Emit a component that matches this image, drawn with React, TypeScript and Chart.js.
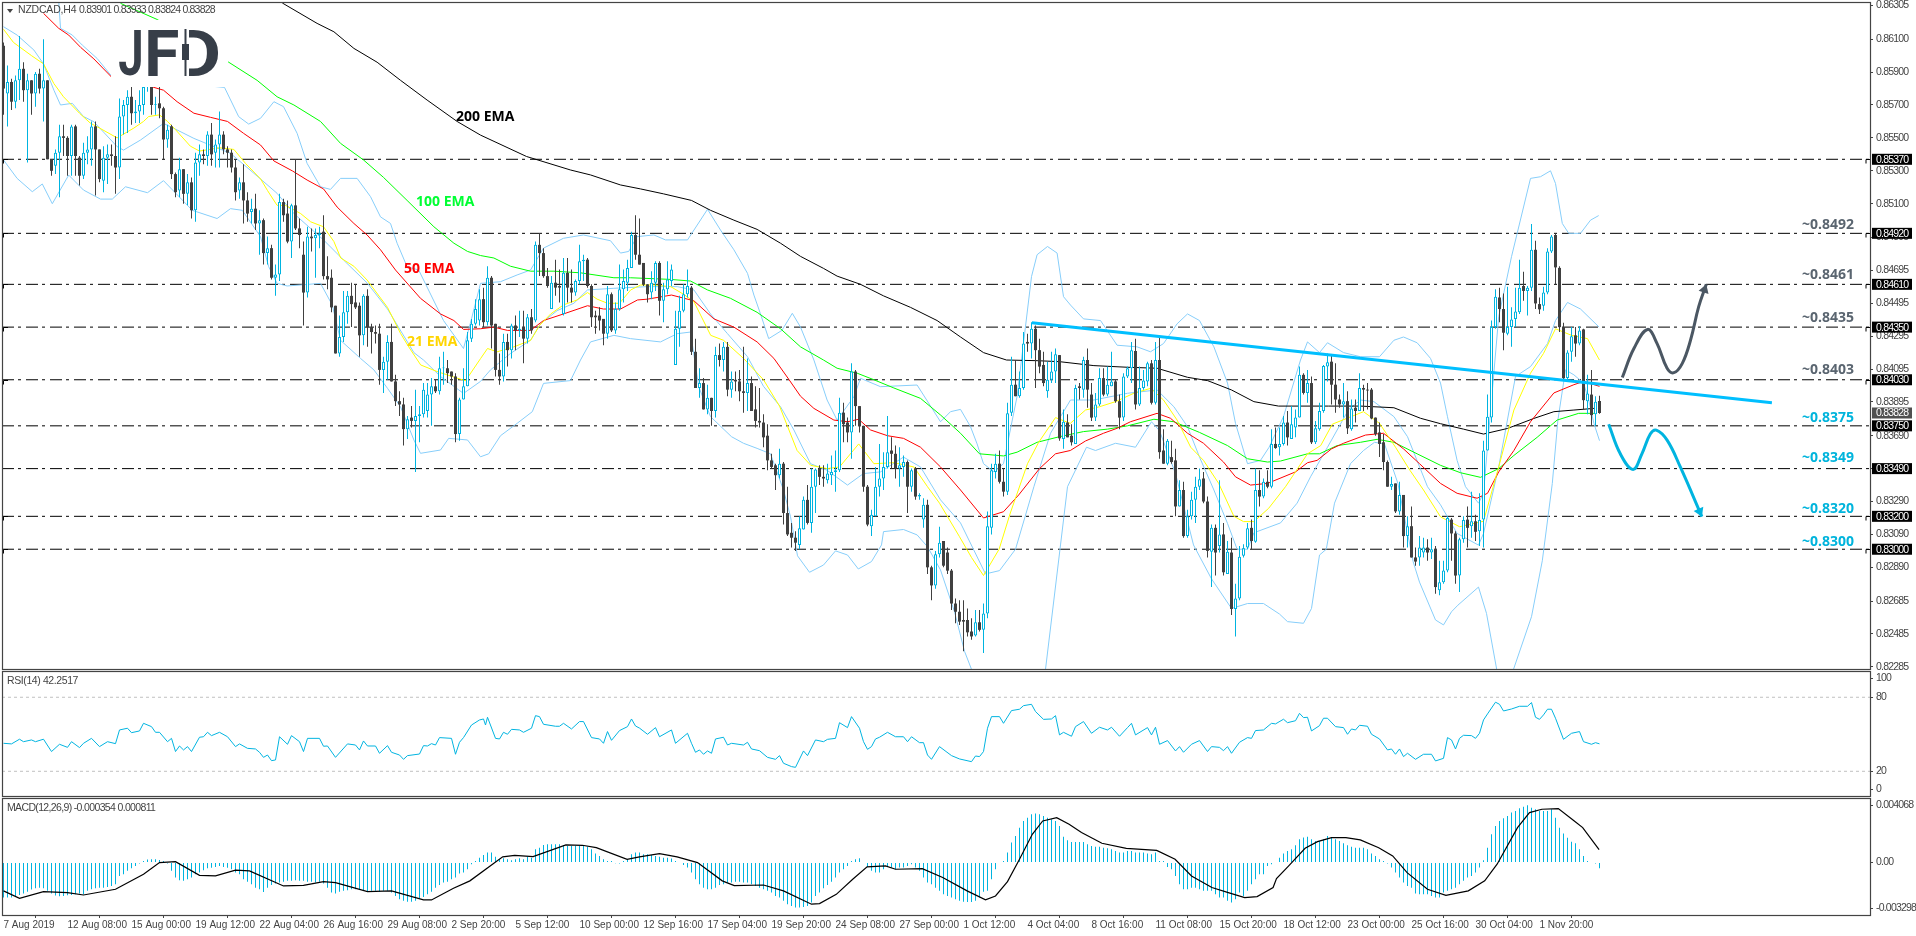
import React, { useEffect, useRef } from "react";
import { Chart, registerables } from "chart.js";
Chart.register(...registerables);

type Pair = [number, number];

const titleSymbol = "NZDCAD,H4";
const titleValues = "0.83901 0.83933 0.83824 0.83828";
const dateLabels = ["7 Aug 2019","12 Aug 08:00","15 Aug 00:00","19 Aug 12:00","22 Aug 04:00","26 Aug 16:00","29 Aug 08:00","2 Sep 20:00","5 Sep 12:00","10 Sep 00:00","12 Sep 16:00","17 Sep 04:00","19 Sep 20:00","24 Sep 08:00","27 Sep 00:00","1 Oct 12:00","4 Oct 04:00","8 Oct 16:00","11 Oct 08:00","15 Oct 20:00","18 Oct 12:00","23 Oct 00:00","25 Oct 16:00","30 Oct 04:00","1 Nov 20:00"];
const priceTicks = [0.86305,0.861,0.859,0.857,0.855,0.853,0.851,0.84895,0.84695,0.84495,0.84295,0.84095,0.83895,0.8369,0.8349,0.8329,0.8309,0.8289,0.82685,0.82485,0.82285];
const levels = [0.8537,0.8492,0.8461,0.8435,0.8403,0.8375,0.8349,0.832,0.83];
const levelsWithMark = [0.8537,0.8492,0.8461,0.8435,0.8403,0.832,0.83];
const lastPrice = 0.83828;

const opens = [
8606,8577,8584,8572,8585,8592,8579,8585,8577,8589,
8580,8585,8537,8533,8541,8551,8550,8539,8557,8538,
8527,8541,8543,8557,8543,8524,8538,8540,8539,8532,
8563,8570,8575,8565,8566,8570,8581,8590,8570,8571,
8568,8549,8557,8528,8518,8531,8516,8523,8506,8535,
8540,8539,8552,8541,8546,8552,8543,8541,8532,8518,
8523,8512,8505,8507,8498,8500,8480,8483,8465,8467,
8511,8504,8487,8509,8495,8479,8456,8490,8489,8491,
8493,8466,8465,8448,8419,8429,8444,8454,8450,8448,
8430,8454,8435,8432,8431,8409,8414,8426,8402,8390,
8388,8373,8380,8378,8381,8382,8384,8394,8399,8396,
8410,8410,8408,8405,8370,8391,8399,8428,8437,8439,
8452,8438,8465,8437,8409,8405,8426,8421,8436,8433,
8435,8428,8441,8439,8485,8480,8466,8446,8462,8460,
8443,8468,8459,8456,8463,8475,8476,8460,8442,8442,
8440,8431,8455,8433,8446,8458,8462,8471,8491,8479,
8474,8461,8456,8462,8474,8451,8458,8463,8412,8434,
8445,8455,8459,8420,8398,8401,8385,8392,8384,8418,
8415,8423,8397,8403,8402,8396,8395,8401,8385,8378,
8377,8369,8354,8351,8345,8352,8322,8310,8307,8302.5,
8312,8330,8316,8338,8349,8344,8342,8345,8347,8348,
8383,8377,8371,8408,8387,8375,8338,8314,8320,8338,
8343,8350,8360,8358,8349,8350,8353,8338,8349,8332,
8318,8327,8289,8278,8297,8305,8298,8287,8267,8262,
8257,8257,8250,8247.5,8255.6,8251,8261,8313,8347,8352,
8341,8335,8383,8400,8393,8398,8426,8425,8434,8421,
8412,8396,8403,8408,8418,8367,8377,8369,8364,8399,
8397,8415,8394,8380,8388,8404,8394,8399,8402,8390,
8380,8405,8410,8420.5,8388,8398,8402,8413,8389,8415,
8360,8352,8356,8354,8326,8336,8308,8320,8330,8338,
8343,8329,8298.5,8313,8302,8309,8285,8298,8263.7,8270,
8296,8301,8313,8304.6,8336,8332,8341,8338,8364,8362,
8364,8377,8367,8374,8380,8406,8395,8401,8365,8373,
8384,8411,8414,8400,8391,8388,8390,8373,8386,8384,
8398,8397,8397,8380,8371,8365,8353,8338,8340,8323,
8333,8308,8314,8295,8295,8298,8301,8298,8300,8275,
8280,8287,8318,8309.6,8284,8306,8318,8314,8317,8311,
8318,8360,8380,8435,8453,8446,8431,8435,8440,8444,
8460,8457,8459,8482,8449,8448,8456,8481,8491,8471,
8435,8404,8420,8430,8425,8433.6,8390,8394,8382,8390.1];

const closes = [
8580,8584,8572,8585,8592,8579,8585,8577,8589,8580,
8585,8537,8530,8541,8551,8550,8539,8557,8539,8527,
8541,8543,8557,8543,8525,8538,8540,8539,8532,8563,
8570,8575,8565,8566,8570,8581,8590,8570,8570.5,8568,
8549,8555,8528,8517,8531,8516,8523,8506,8535,8540,
8539,8552,8540,8546,8552,8543,8541,8532,8517,8523,
8512,8504,8507,8498,8500,8480,8483,8465,8467,8511,
8503,8487,8509,8495,8491,8456,8490,8489,8491,8492,
8466,8464,8447,8419,8429,8444,8454,8449,8447,8430,
8454,8435,8432,8431,8409,8414,8426,8402,8390,8388,
8373,8379,8378,8381,8382,8397,8394,8399,8396,8410,
8410.5,8407,8405,8370,8391,8399,8427,8437,8446,8452,
8438,8465,8436,8409,8405,8426,8421,8436,8433,8434,
8428,8441,8433,8485,8480,8466,8460,8462,8459,8459,
8468,8459,8456,8463,8475,8476,8460,8441,8441,8439,
8431,8455,8433,8446,8458,8463,8471,8491,8479,8473,
8461,8455,8462,8474,8451,8458,8464,8470,8434,8445,
8455,8460,8420,8398,8401,8385,8392,8384,8418,8415,
8423,8397,8402,8402,8396,8395,8401,8384,8378,8377,
8368,8354,8350,8345,8352,8322,8309,8307,8304,8312.7,
8330,8316,8338,8348.5,8344,8343,8346,8347,8348,8383,
8376,8371,8408,8387,8375,8338,8315,8321,8338,8343,
8350,8359,8358,8349,8351,8353,8338,8348,8332,8333,
8327,8289,8278,8297,8304,8290,8287,8267,8262,8256,
8256,8249.5,8247,8255.6,8251,8261,8314,8348,8352,8341,
8335,8382.6,8400,8393,8398,8425,8425,8434,8421,8411,
8401,8403,8408,8418.5,8367.4,8377.5,8368,8365,8398,8398,
8415,8397,8380,8388,8404,8394,8400,8402,8390,8380,
8405,8410,8421,8388,8398,8402.5,8413,8389,8415,8359,
8352,8366,8353,8326,8336,8308,8320,8330,8338,8342.5,
8329,8299,8313,8298,8309,8286,8298.5,8263.7,8270,8295.5,
8300.6,8312.7,8305,8336,8332,8341,8338,8364,8361.5,8364,
8377,8368,8376,8380,8406,8395,8401,8365,8373.5,8384,
8411.4,8413.6,8400,8391,8388,8390,8373.5,8385.6,8384,8398,
8397,8396.5,8379.5,8370,8364,8353,8338,8339.7,8323,8333,
8308,8314,8295,8292.5,8301,8301,8298,8300,8277,8280,
8287,8319,8309.6,8284,8306,8317.7,8313,8317,8310.6,8317.7,
8360,8380.5,8435,8453.5,8446,8431.6,8435,8439.7,8444.5,8459,
8457,8459,8482,8449.4,8445.8,8456,8481,8490,8471.3,8435,
8404,8419.6,8429.5,8425,8433,8390.6,8394.7,8381.5,8389.6,8382.8];

const highs = [
8608,8594,8586,8588,8612,8596,8589,8585,8590,8592,
8610,8585,8537,8543,8558,8558,8551,8558,8558,8539,
8547,8551,8560,8560,8543,8545,8546,8546,8551,8574,
8573,8579,8581,8573,8579,8582,8595,8592,8575,8581,
8569,8558,8558,8529,8538,8531,8528,8526,8541,8546,
8543,8554,8559,8549,8566,8554,8545,8543,8537,8526,
8534,8517,8513,8516,8506,8501,8490,8485,8473,8516,
8513,8512,8510,8537,8501,8487,8496,8495,8495,8496,
8503,8478,8470,8448,8442,8457,8457,8462,8461,8450,
8455,8458,8437,8436,8437,8417,8430,8437,8406,8396,
8392,8381,8387,8397,8387,8401,8401,8404,8403,8417,
8420,8415,8408,8407,8392,8410,8432,8440,8452,8458,
8459,8472,8466,8437,8419,8431,8431,8437,8442,8445,
8445,8443,8446,8487,8492,8483,8471,8466,8476,8470,
8477,8477,8470,8464,8485,8479,8477,8461,8445,8447,
8440,8460,8456,8450,8473,8470,8476,8493,8503,8501,
8474,8461,8469,8475,8475,8462,8475,8473,8445,8454,
8461,8470,8460,8428,8410,8404,8400,8392,8423,8425,
8426,8426,8408,8408,8409,8423,8416,8405,8399,8398,
8382,8376,8358,8352,8361,8353,8338,8316,8311,8320,
8332,8339,8349,8349,8351,8351,8352,8357,8360,8392,
8389,8380,8413,8409,8387,8375,8339,8324,8350,8364,
8359,8381,8368,8363,8362,8357,8354,8349,8350,8334,
8331,8330,8290,8299,8313.7,8305,8301,8288,8270,8269,
8269,8264,8258,8263,8263,8267,8323,8352,8358,8360,
8349,8389,8417,8415,8408,8432,8431,8438,8436,8428,
8420,8414,8420,8422,8418,8385,8382,8376,8400,8401,
8417,8422,8401,8395,8410,8410,8411,8420,8403,8394,
8407,8411,8426,8428,8411,8409,8414,8415,8426,8429,
8373,8367,8366,8361,8342,8341,8324,8335,8344,8349,
8347,8332,8315,8315,8342,8316,8305,8307,8279,8302,
8303,8316,8318,8349,8348,8343,8348,8373,8374,8374,
8381,8384,8387,8385,8411,8407,8409,8405,8378,8389,
8412,8419,8418,8413,8394,8401,8396,8391,8391,8407,
8400,8401,8398,8380,8377,8370,8354,8344,8340,8341,
8333,8320,8326,8301,8308,8307,8306,8307,8302,8293,
8293,8320,8319,8311,8307,8320,8326,8335,8321,8334,
8366,8394,8439,8458,8459,8455.5,8459.5,8447,8459,8476,
8468.6,8460,8497.6,8487.5,8453,8459.5,8483,8491,8492,8472,
8437.6,8421,8435,8435,8435.6,8434,8406,8409,8393,8393.3];

const lows = [
8564,8557,8567,8568,8573,8572,8535,8564,8569,8577,
8560,8537,8527,8528,8514,8539,8527,8527,8527,8521,
8525,8534,8533,8515,8523,8517,8522,8533,8516,8525,
8552,8553,8558,8559,8559,8564,8578,8564,8564,8562,
8537,8544,8525,8514,8514,8510,8509,8501,8499,8527,
8534,8533,8533,8532,8532,8540,8532,8529,8512,8513,
8498,8499,8498,8494,8479,8473,8473,8464,8454,8463,
8499,8486,8477,8494,8483,8436,8453,8481,8465,8483,
8464,8458,8444,8419,8417,8426,8437,8435,8446,8417,
8424,8423,8419,8425,8400,8395,8403,8402,8387,8381,
8363,8367,8374,8347,8365,8380,8380,8375,8395,8394,
8400,8401,8400,8365,8366,8391,8399,8426,8436,8436,
8435,8436,8422,8405,8400,8402,8411,8416,8421,8429,
8413,8425,8431,8438,8466,8465,8459,8446,8454,8450,
8442,8450,8450,8454,8461,8463,8459,8435,8431,8433,
8424,8428,8432,8431,8445,8450,8457,8471,8476,8473,
8460,8450,8452,8457,8442,8438,8455,8460,8412,8423,
8444,8453,8418,8398,8392,8385,8382,8375,8380,8411,
8408,8393,8392,8396,8390,8383,8384,8384,8374,8374,
8362,8348,8349,8336,8343,8315,8308,8301,8299,8300,
8312,8315,8310,8322,8339,8338,8340,8339,8335,8347,
8365,8365,8355,8375,8371,8335,8314,8308,8320,8332,
8336,8349,8349,8343,8338,8344,8322,8335,8330,8330,
8313,8285,8269,8276,8295,8289,8285,8263,8255,8254,
8238,8247,8245,8247,8250,8237,8258,8309,8343,8340,
8332,8333,8381,8393,8392,8397,8420,8416,8398,8407,
8399,8392,8401,8401,8366,8361,8368,8363,8364,8391,
8392,8386,8378,8378,8387,8393,8393,8399,8389,8373,
8378,8404,8401,8385,8387,8397,8399,8388,8388,8355,
8352,8351,8352,8320,8326,8307,8307,8318,8316,8336,
8328,8295,8277,8284,8298,8284,8285,8260,8247,8269,
8295,8300,8300,8304,8326,8331,8337,8337,8361,8357,
8363,8363,8367,8368,8380,8394,8389,8364,8364,8372,
8383,8402,8388,8383,8386,8380,8370,8372,8377,8384,
8384,8385,8379,8369,8356,8348,8338,8336,8322,8321,
8301,8301,8295,8290,8290,8295,8293,8294,8273,8272,
8279,8286,8293,8279,8274,8304,8301,8307,8305,8302,
8301,8360,8377,8434,8438,8421,8430,8423,8435,8443,
8451,8442,8457,8446,8443,8445,8455,8480,8461,8432,
8403,8403,8414,8417,8424,8384.6,8382,8375,8375,8382.4];

const ema21: Pair[] = [[0,8616],[2.5,8608],[7,8600],[10,8595],[12.6,8583],[15,8575],[17,8570],[19,8565],[21.7,8559],[24,8556],[28.4,8550],[32.6,8556],[35,8560],[36.3,8563],[39,8564],[41,8560],[43,8555],[46.7,8545],[49,8542],[54,8544],[57.6,8543],[60.5,8534.5],[64.3,8525],[66,8518],[68.4,8509],[70.5,8509],[74.3,8504],[76.8,8499],[80,8496],[82.6,8487],[84.3,8477],[87.6,8472],[90.9,8463.6],[96,8447],[99.3,8431],[101.3,8423],[104.3,8412],[108.4,8408],[113.4,8404],[115.5,8402.4],[119.3,8416],[121,8422],[123.4,8420],[127.6,8423],[131.8,8427],[134,8436],[136.8,8443],[140,8448.5],[143.4,8451.5],[146,8456],[148.4,8452],[151,8449.5],[154,8449.5],[156.8,8457.6],[159.3,8460.6],[162.6,8460.6],[166.8,8459.6],[170,8455],[172.6,8450.5],[176.8,8430],[180,8427],[185,8416],[190,8403],[194,8387],[198.4,8360],[201.8,8351],[205.9,8349],[209,8350],[213.8,8364],[217.6,8352],[222.6,8352.6],[227.6,8350],[231,8338],[234,8328],[239,8307.6],[242,8295],[245,8284],[248.9,8300],[251.7,8322],[256,8352],[258.8,8365],[263,8380],[266.7,8376.5],[270.5,8384.6],[274,8386.6],[278,8389.7],[282.6,8394.8],[286.8,8397.8],[290,8390.7],[293.4,8378.5],[296.8,8362],[300,8354],[303.8,8340],[307.6,8320],[310,8316.8],[312.6,8316.8],[316.3,8324.9],[320.5,8338],[326,8358],[329.3,8363],[332.2,8376],[340,8383.6],[344,8376.5],[348,8362],[351.6,8348],[355,8336],[359.25,8319.7],[364,8313.7],[370,8317],[373.8,8350],[377.6,8384.6],[381.75,8407],[385,8419],[388,8434],[392,8430],[396,8428],[399,8415]];

const ema50: Pair[] = [[10,8625.7],[13.8,8616.6],[16.3,8612.5],[19.3,8605],[22.6,8598],[27,8587],[37.6,8580.7],[40,8579],[43.4,8572],[47.6,8565],[51.75,8562.5],[56,8560],[60,8552.8],[64.25,8545.7],[67.6,8536],[72.25,8529.9],[75.9,8524.4],[80,8519],[83.4,8508],[87.6,8498],[90.9,8491],[94.25,8482],[98,8469.7],[104.25,8452.5],[109.25,8443],[112.6,8439],[115,8433.6],[119.25,8434],[122.6,8435],[126,8433],[131.75,8433],[135,8439],[140,8443],[146,8448],[150,8446],[154.25,8446],[158.5,8451.5],[161,8452],[167,8454.5],[172.6,8451],[177.6,8440],[182.6,8435],[188.4,8426],[192.6,8416],[196.4,8403],[199.25,8393],[202.6,8385.6],[207.6,8378.5],[211,8377.5],[213.8,8379],[216.75,8372.5],[221,8369],[225,8367.4],[229.25,8362],[234.25,8350],[239.25,8336],[245,8319],[250,8322.8],[253.8,8333],[259,8349],[263,8358],[266.7,8360],[270.5,8365.8],[275,8370.5],[278.4,8373.5],[281.75,8377.5],[288.4,8382.6],[291.75,8379.6],[296,8370.5],[300,8364.4],[305,8353],[308,8344],[311.75,8339],[316,8340],[323,8347],[326,8352.6],[328.4,8354],[332,8361],[335,8364.4],[340.5,8369.4],[345,8370.5],[350,8361],[354,8352],[359.25,8340],[363.4,8334],[368.4,8331],[371,8334],[373.8,8347],[377.6,8360],[381.75,8377.5],[387.6,8395],[392.6,8400],[395,8402],[399,8399]];

const ema100: Pair[] = [[29.25,8631.8],[38.4,8622],[56.3,8596],[63.4,8585],[68.4,8575],[72.6,8570],[79.25,8560],[84.25,8546.7],[90,8536.6],[95,8526],[100.9,8512],[107.6,8496],[112.6,8486],[116,8481],[119.25,8478.5],[122.6,8477],[126.75,8472],[131.75,8469],[137.6,8469],[144.25,8468],[152.6,8465],[156.75,8465],[166.75,8464],[171.75,8463],[176,8457.6],[181.75,8452.5],[188.4,8444],[194.25,8434],[199.25,8423],[205,8415],[208.4,8410],[213.4,8407],[217.6,8403],[222.6,8398],[229.25,8391.7],[234.25,8381.6],[239.25,8370.5],[244,8358],[250,8356.7],[253.4,8359],[258.4,8365],[264,8368.4],[270,8371.5],[276,8373],[281,8375],[287.6,8379],[292.6,8377.5],[299,8371],[306,8363],[311,8355],[316,8353],[319.25,8353.6],[326,8358],[329,8358],[333.4,8363],[339.25,8365],[343.4,8366.8],[347.6,8365],[353.4,8358],[359.25,8351],[364.25,8346.5],[369.25,8343.7],[373.8,8349],[377.6,8357],[383.4,8368],[388.4,8378.5],[393.8,8382.6],[397.6,8382.6]];

const ema200: Pair[] = [[69.7,8632],[78.4,8619.6],[82.6,8614.5],[87.6,8604.4],[93.4,8596],[99.25,8585],[105.9,8573],[113.4,8560],[119.25,8551.7],[130.75,8538.7],[141.75,8530.5],[146.75,8527.5],[154.25,8521.4],[159.25,8519],[165,8516],[172,8512],[176.75,8506],[182.6,8500],[188.4,8494.4],[194.25,8486],[199.25,8478],[205,8470.7],[208.4,8466],[214.25,8461],[220,8454],[226.75,8447],[233.4,8439],[239.25,8429],[245,8419.5],[250.75,8415],[258.4,8414.6],[264,8414],[272.6,8411.6],[281,8410.6],[288.4,8410],[296,8404.5],[301,8402.5],[307,8396.8],[312.6,8389.7],[318.75,8387],[331.25,8387],[339.25,8387],[347.6,8386],[354.25,8379.6],[359.25,8376.3],[365,8373],[370,8370],[376,8373.4],[382.6,8379.5],[387.6,8383.6],[392.6,8384.6],[397.6,8385.6]];

const bbUpper: Pair[] = [[13.8,8633.8],[14.25,8616.6],[17.2,8612.5],[19.7,8606.4],[23.4,8598.3],[27.2,8587],[55.25,8580.7],[58.8,8562.9],[61.3,8558.4],[64.25,8561.9],[67.6,8572],[70,8569],[73.4,8552.8],[75.9,8534.5],[79.25,8520.3],[81.75,8518.7],[84.25,8525.4],[88.4,8525.4],[91.75,8514.3],[94.25,8502],[96.75,8498],[98.4,8486],[100.9,8471.7],[103.8,8469.7],[110,8439],[115,8422],[117,8440],[119.25,8461.6],[124.25,8462.6],[128.4,8466.7],[131.75,8469.7],[135,8483],[140,8489],[145,8491],[151.75,8487.5],[154.25,8480],[156.3,8481],[158.4,8490],[162.6,8491],[165.5,8488],[171,8488],[176,8506.6],[179.25,8494],[182.6,8482],[186,8467.7],[187.6,8454.5],[189.25,8443],[191.3,8428],[194.6,8433],[197.2,8443.4],[199.25,8435],[202.6,8415],[205.9,8390.7],[208.4,8378.5],[212.6,8392.7],[214.25,8403.9],[219.25,8398.8],[228.4,8399.8],[234.25,8377.5],[236.75,8383.6],[239.25,8385],[241.75,8374.5],[243.4,8364],[245,8352],[247.6,8347],[250,8352],[253.4,8393],[257,8465.7],[258.4,8479],[261,8484],[263.4,8480],[265,8453.5],[266.75,8448.4],[270,8440],[274.25,8439],[278.4,8424],[283.4,8423],[286.75,8420],[290,8425],[293.4,8437],[296,8443],[299,8439],[302.6,8423],[306,8401],[308,8376.5],[311,8352],[314.25,8354],[316.4,8362],[320,8380.6],[324.25,8415],[326,8426],[329,8419.5],[331,8425.5],[335,8419.5],[339.25,8417],[344,8417],[347.6,8427],[350,8429],[353.4,8425.5],[356.75,8416],[359.25,8401],[361,8380.5],[363.4,8354],[365.5,8338],[368.75,8328],[370,8334],[373.8,8441.3],[377,8477.8],[381.75,8525.4],[384.25,8526.4],[386.75,8530],[388,8522.3],[389.7,8498],[391.3,8492],[394.25,8492],[396.75,8500],[398.8,8502.8]];

const bbMiddle: Pair[] = [[0,8617.6],[3.4,8612.5],[7.6,8603.4],[10,8595],[12.6,8579],[14.25,8570],[17.2,8571],[20,8563],[22.6,8559.8],[28.4,8544.7],[30,8542.6],[34.25,8548.7],[40,8558.8],[42.6,8555.8],[47.6,8549.7],[56.75,8540.6],[62.6,8528.5],[68.4,8516.3],[72.6,8504],[80,8488],[85,8475.8],[91,8461.6],[96,8446],[102.6,8419.5],[105,8415],[109.25,8405],[115,8394.7],[119.25,8402],[121.75,8409],[126.75,8419],[131.75,8427],[134.25,8437],[138.4,8445],[142.6,8449.5],[146,8457.6],[152.6,8458.6],[161,8459.6],[168.4,8459.6],[172.6,8457.6],[176.75,8443],[181,8431],[186,8417],[190,8399],[194.25,8386.6],[197.6,8372.5],[201.75,8352],[205.9,8348],[211,8339],[215,8346],[219.25,8347],[225,8356],[229.25,8350],[234.25,8330],[239.25,8316],[245.5,8285],[249,8287],[253,8300],[257.6,8338],[261.75,8370.5],[266.75,8390.7],[272.6,8390.7],[281,8394.8],[288.4,8396.8],[292.6,8386.6],[296,8374.5],[299,8356],[302.6,8336],[306,8315.7],[308.4,8300],[311,8300],[312.6,8310],[319.25,8316],[323.4,8328],[326.75,8344],[331,8362],[336.3,8385],[339.25,8390.7],[342.6,8389.7],[347.6,8380.6],[351,8368.4],[356,8338],[359.25,8327],[363.4,8309.6],[368.75,8302.5],[370,8309.6],[373.8,8350],[378,8405],[381.75,8411],[386,8425],[388,8439],[391,8450],[394.25,8446],[398.9,8435]];

const bbLower: Pair[] = [[0,8536.6],[3.4,8525.4],[7.2,8517.3],[9.7,8522],[12.2,8510],[16.3,8527.4],[20,8518.3],[24.25,8512.8],[27.2,8512.8],[30.5,8520.3],[36,8516.7],[40,8524],[47.2,8506],[53.4,8501],[56.75,8507],[59.7,8506],[64.25,8490],[66.3,8471.7],[68.4,8461.6],[70.9,8460],[74.25,8460.6],[79.25,8461.6],[82.2,8448.4],[84.25,8427],[89.25,8416],[92.6,8409],[96,8397.8],[99.25,8386.6],[102.6,8366.4],[104.25,8358.3],[109.25,8360.3],[111.3,8367.4],[116,8366.4],[119.25,8356.2],[121.3,8358],[124.25,8369],[128.4,8376.5],[132.2,8383.6],[135,8400.8],[141.75,8402.5],[144.25,8415],[146.75,8426],[152.6,8430],[156.75,8428],[164.25,8426],[168.4,8431],[171.75,8432],[173.8,8398.8],[176.75,8380.6],[182,8368.4],[185,8364.4],[188.4,8361.3],[191.75,8358],[195,8336],[196.75,8319.8],[198.5,8296],[201.5,8286],[205,8290.4],[208,8299],[211,8296.5],[213.7,8288],[217,8292.5],[219.5,8302.6],[220,8310.7],[225,8312],[228.4,8308.7],[231,8301.5],[234.25,8287.4],[237.75,8262],[240.25,8238],[242,8227],[251,8175],[260.5,8227],[264.25,8302.6],[266,8338],[270.75,8362],[273,8360],[278,8364.4],[283,8362],[287,8377.5],[289,8372],[293,8346],[297.5,8302.6],[302,8282],[307,8264],[311,8267],[315,8267],[319,8260.6],[321,8256],[325,8255],[327,8264],[329,8296.5],[330.7,8300],[332.75,8328],[336.75,8352],[340,8360],[342.75,8365],[345.25,8364],[348.6,8340],[352.4,8292.5],[354,8280],[358,8257],[360,8254],[362,8262],[363.6,8266],[368.75,8277],[370.75,8261],[373.3,8227],[375.5,8205],[377.5,8227],[382,8259],[384.7,8293],[387.2,8340],[388.6,8378.5],[390.5,8409],[392.6,8406],[395,8401],[396.3,8390.6],[397.6,8376.5],[399,8366]];

const trendLine: Pair[] = [[257.1,8437.7],[442.1,8389.1]];
const upPath: Pair[] = [[404.7,8404.4],[407.6,8422],[411,8433.6],[413.4,8425],[415.9,8410],[417.6,8407.3],[419.7,8413],[421.75,8427],[423.8,8447.4],[425.7,8461]];
const downPath: Pair[] = [[401.3,8376],[404.2,8358],[407.4,8348.5],[409.6,8358],[411.7,8370],[413.2,8372.4],[415.9,8366.3],[419.2,8350],[424.6,8319.8]];

const rsi: Pair[] = [[0,42.7],[2,42.2],[4,46],[5,44],[7,45.4],[8,44],[10,46],[12,36],[14,41.9],[16,39.4],[17,44],[19,39.2],[20,42.7],[22,46.7],[24,40],[26,44],[28,42.4],[29,53.5],[31,54.9],[32,51.3],[34,52.7],[35,58.9],[37,56.2],[38,51.6],[39,51.6],[41,44],[42,46.7],[43,36],[44,40.5],[45,37.3],[46,40],[47,36],[49,47.6],[50,48],[51,51.6],[52,48.9],[54,51.6],[56,48],[58,40],[59,42.2],[61,38.6],[63,38.1],[64,35.4],[65,31.3],[66,33.2],[67,28.6],[68,29.2],[69,48],[71,41.9],[72,48.9],[74,44],[75,36],[76,46.7],[79,46.7],[80,40.3],[81,40.5],[83,31.3],[86,42.2],[88,41.3],[89,37.3],[90,44.6],[91,40.5],[93,40.5],[94,34.6],[96,40.8],[97,35.4],[99,33.2],[100,29.7],[101,32.7],[104,34],[105,40.8],[106,40.5],[107,42.4],[108,41.3],[109,47.3],[112,46.7],[113,33.8],[114,43.5],[115,47.3],[117,57.5],[119,61.6],[120,62.4],[120.5,57.5],[121,63.8],[123,46.7],[124,46.2],[125,51.6],[126,50],[127,54],[129,53.5],[130,51.6],[132,54.9],[133,65.1],[134,64.3],[135,58.1],[138,56.5],[139,56.5],[140,58.9],[142,54.3],[144,60.3],[145,60.3],[147,47.3],[149,46.2],[150,42.7],[151,52.2],[152,45.1],[154,53],[156,56.2],[157,62.4],[158,56.7],[159,55],[161,50],[163,55.4],[164,48],[167,53.5],[168,42.7],[171,50.8],[172,42.7],[173,35.4],[174,37.3],[175,33.8],[176,36.5],[177,34.6],[178,46.2],[180,47.6],[181,41.3],[182,42.7],[185,41.3],[186,43.5],[187,38.1],[189,36.7],[191,31.3],[193,29.7],[194,32.7],[195,26.5],[197,23.8],[198,23.2],[200,36.5],[201,32.7],[203,45.4],[205,44],[206,45.9],[208,46.7],[209,59.4],[211,55.4],[212,64.3],[214,54.9],[215,44],[216,37.8],[217,40],[218,46.2],[219,47.6],[221,51.6],[223,48],[225,48],[226,44],[227,48],[229,43.2],[230,43.2],[231,33.2],[232,29.7],[234,40],[237,32.7],[239,30],[242,27.8],[243,32.4],[244,31.9],[245,36],[246,54.9],[247,64.3],[249,64.3],[250,58.9],[252,69.2],[254,70.3],[255,73.2],[257,74.3],[258,68.4],[260,62.1],[262,62.4],[263,65.1],[264,49.5],[265,51.6],[267,48.4],[268,56.2],[270,60.3],[272,50.8],[274,55.7],[276,53.5],[277,55.7],[279,48.4],[281,55.4],[282,58.9],[283,49.5],[286,55.4],[287,49.5],[288,55.7],[289,41.9],[291,44.9],[293,36.5],[294,40],[295,35.4],[297,41.9],[299,44.9],[301,36],[302,40],[304,39.4],[305,36.7],[306,40],[307,34.6],[309,43.5],[311,47.3],[312,46.7],[313,53],[315,53.5],[317,58.9],[318,58.4],[320,62.2],[321,59.4],[323,61],[324,67],[325,63.5],[326,63.8],[327,52.7],[329,57],[330,63],[331,63],[333,56.2],[335,55.4],[336,50],[337,54.3],[338,53.5],[339,57.3],[341,56.5],[342,50],[344,46.2],[346,37.3],[347,38.1],[348,33.8],[349,38.1],[350,31.9],[351,34.6],[353,29.7],[355,33.8],[357,33.8],[358,28.4],[360,30.5],[361,47.3],[362,45.4],[363,38.1],[364,46.7],[365,49.2],[367,48.9],[368,46.7],[369,50.8],[370,61.6],[371,66.5],[373,76],[374,74.3],[375,68.9],[377,70.5],[379,72.7],[381,72.7],[382,75.7],[383,63.8],[384,62.1],[385,65.7],[386,70.3],[387,70.3],[388,63],[390,45.9],[392,50.8],[394,52.2],[395,44],[397,41.9],[398,43.2],[399,42.25]];
const rsiGuides = [80, 20];
const rsiTicks = [95.6, 80, 20, 5.6];
const rsiTickText = ["100", "80", "20", "0"];

const macdHist = [
-220,-220,-220,-216,-204,-195,-183,-170,-162,-158,
-162,-178,-195,-208,-212,-210,-206,-204,-200,-195,
-200,-178,-168,-162,-158,-158,-153,-147,-136,-84,
-74,-52,-36,-21,-6,10,19,21,21,17,
10,-6,-52,-94,-111,-115,-105,-94,-74,-63,
-48,-36,-32,-27,-21,-27,-32,-42,-63,-74,
-105,-120,-136,-158,-168,-185,-158,-141,-132,-126,
-120,-115,-115,-111,-115,-115,-120,-120,-126,-120,
-132,-158,-189,-195,-183,-178,-174,-168,-168,-168,
-178,-183,-178,-178,-183,-178,-178,-189,-210,-231,
-241,-246,-246,-241,-225,-216,-200,-183,-158,-141,
-126,-120,-105,-94,-69,-63,-42,-10,10,31,
48,63,63,36,21,27,21,15,21,27,
21,36,31,84,94,111,115,115,115,115,
111,105,105,105,105,105,99,84,57,42,
21,10,10,-4,-6,10,21,52,63,63,
52,52,48,42,36,31,31,25,10,0,
-15,-31,-63,-105,-136,-158,-168,-168,-158,-141,
-136,-126,-126,-120,-120,-126,-126,-136,-147,-158,
-168,-178,-189,-210,-220,-241,-262,-273,-283,-283,
-279,-273,-252,-210,-189,-162,-141,-120,-94,-63,
-42,-21,10,21,27,0,-27,-52,-63,-63,
-42,-21,-31,-42,-31,-31,-21,-10,-31,-52,
-94,-126,-136,-158,-178,-200,-210,-220,-231,-241,
-246,-248,-248,-241,-220,-183,-178,-105,-42,0,
10,63,126,168,220,262,283,304,309,304,
294,283,273,262,231,162,141,130,130,130,
130,115,105,99,99,94,90,84,73,63,
63,73,73,63,63,63,57,52,63,10,
10,-27,-42,-84,-136,-168,-168,-158,-158,-168,
-178,-178,-178,-200,-220,-220,-241,-252,-231,-189,
-210,-178,-136,-105,-74,-74,-21,-10,0,31,
57,73,84,109,147,158,162,147,136,136,
147,168,158,147,136,122,109,99,94,94,
94,84,57,42,21,10,-6,-31,-63,-94,
-126,-147,-158,-195,-200,-200,-200,-210,-220,-220,
-189,-178,-168,-158,-136,-115,-94,-84,-63,-31,
15,94,178,231,262,279,294,315,325,342,
351,361,346,336,325,325,325,336,283,220,
183,157,132,122,84,42,10,0,-6,-35.4];

const macdSignal: Pair[] = [[0,-178],[4,-225],[10,-183],[16,-189],[20,-204],[28,-168],[35,-74],[39,0],[43,6],[49,-80],[53,-84],[58,-48],[61.5,-52],[70,-147],[75,-143],[80,-120],[83,-126],[91,-183],[97,-178],[105,-235],[107,-235],[112.5,-162],[116.6,-115],[124.8,36],[127.8,46],[132.4,38],[140.6,111],[144.7,109],[148.2,94],[155.9,21],[159,36],[164,57],[168.4,36],[173.5,0],[179.7,-115],[182.7,-145],[190,-141],[195,-178],[202,-262],[204,-258],[208.2,-200],[212.3,-105],[215.9,-27],[220.5,-21],[223,-42],[229.7,-38],[234.8,-94],[240.9,-178],[245.5,-235],[248,-210],[251,-120],[254,21],[257.2,178],[259.8,262],[263.3,283],[266.4,241],[269.5,189],[274.6,122],[280.7,90],[288.3,77],[292.9,21],[297,-84],[302.1,-157],[306.2,-189],[310.3,-220],[313.4,-214],[317.4,-157],[318.25,-101],[321.3,-21],[325.4,90],[328.5,132],[332,157],[335.6,157],[339.2,143],[343.8,94],[347.3,42],[350.9,-63],[356,-168],[360.6,-206],[366.2,-178],[370.3,-115],[373.4,-10],[378.5,220],[381.5,315],[384.6,336],[388.7,340],[392.7,262],[394.8,220],[398.9,81]];
const macdTicks = [0.003626, 0, -0.00286];
const macdTickText = ["0.004068", "0.00", "-0.003298"];

const levelTexts: [string, number, string, number][] = [
  ["~0.8492", 0.8492, "#5a6570", -8],
  ["~0.8461", 0.8461, "#5a6570", -9],
  ["~0.8435", 0.8435, "#5a6570", -9],
  ["~0.8403", 0.8403, "#5a6570", -10],
  ["~0.8375", 0.8375, "#00b4dc", -8],
  ["~0.8349", 0.8349, "#00b4dc", -11],
  ["~0.8320", 0.832, "#00b4dc", -7],
  ["~0.8300", 0.83, "#00b4dc", -7],
];
const emaTexts: [string, string, number, number][] = [
  ["200 EMA", "#000000", 456, 117],
  ["100 EMA", "#00ff33", 416, 202],
  ["50 EMA", "#ff0000", 404, 269],
  ["21 EMA", "#ffd500", 407, 342],
];

const CYAN = "#00b4e0";
const DARK = "#404040";
const BAND = "#87cefa";
const AXIS = "#444444";
const SANS = "'Liberation Sans'";
const priceFont = { family: SANS, size: 10.5 };
const dateFont = { family: SANS, size: 10 };
const PRICE_SPACING = "-0.8px";

const px = (p: Pair[]) => p.map(([x, y]) => ({ x, y: y / 10000 }));
const raw = (p: Pair[]) => p.map(([x, y]) => ({ x, y }));
const idx = opens.map((_, i) => i);
const isUp = (i: number) => closes[i] >= opens[i];

const line = (data: any[], color: string, yAxisID: string, order: number, width = 1, extra: any = {}) => ({
  type: "line", data, borderColor: color, borderWidth: width, pointRadius: 0, yAxisID, order, clip: 0, tension: 0, fill: false, ...extra,
});

const fitGlyph = (ctx: any, t: string, x0: number, x1: number, y0: number, y1: number) => {
  const m = ctx.measureText(t);
  const w = m.actualBoundingBoxLeft + m.actualBoundingBoxRight;
  const h = m.actualBoundingBoxAscent + m.actualBoundingBoxDescent;
  ctx.save();
  ctx.translate(x0, y0);
  ctx.scale((x1 - x0) / w, (y1 - y0) / h);
  ctx.fillText(t, m.actualBoundingBoxLeft, m.actualBoundingBoxAscent);
  ctx.restore();
};

const overlay = {
  id: "overlay",
  beforeDraw(chart: any) {
    // axis price labels are tighter than the date labels
    ["y", "yr", "ym"].forEach((id) => {
      const s = chart.scales[id];
      if (s.__tight) return;
      s.__tight = true;
      const draw = s.drawLabels;
      s.drawLabels = function (area: any) {
        chart.ctx.save();
        chart.ctx.letterSpacing = PRICE_SPACING;
        draw.call(s, area);
        chart.ctx.restore();
      };
    });
  },
  afterDatasetsDraw(chart: any) {
    const { ctx, scales } = chart;
    const y = scales.y;
    const x = scales.x;
    ctx.save();

    // logo plate
    ctx.fillStyle = "#ffffff";
    ctx.fillRect(111, 20, 117, 67);
    ctx.textBaseline = "alphabetic";
    ctx.textAlign = "left";
    ctx.font = "700 66px Roboto";
    ctx.fillStyle = "#373e48";
    fitGlyph(ctx, "J", 119, 141, 29, 76);
    fitGlyph(ctx, "F", 148, 178, 29, 76);
    ctx.save();
    ctx.beginPath();
    ctx.rect(189, 25, 35, 56);
    ctx.clip();
    fitGlyph(ctx, "D", 177, 219, 29, 76);
    ctx.restore();
    ctx.fillRect(184.5, 29, 2, 47);
    ctx.fillRect(182, 44, 7, 16);

    // emphasised level marks
    ctx.strokeStyle = "#000000";
    ctx.lineWidth = 1;
    levelsWithMark.forEach((v) => {
      const py = Math.round(y.getPixelForValue(v)) + 0.5;
      ctx.beginPath();
      ctx.moveTo(3.5, py + 4);
      ctx.lineTo(3.5, py);
      ctx.lineTo(8, py);
      ctx.moveTo(1866, py + 4);
      ctx.lineTo(1866, py);
      ctx.lineTo(1870, py);
      ctx.stroke();
    });

    // arrow heads
    const head = (path: Pair[], color: string) => {
      const a = path[path.length - 2];
      const b = path[path.length - 1];
      const ax = x.getPixelForValue(a[0]);
      const ay = y.getPixelForValue(a[1] / 10000);
      const bx = x.getPixelForValue(b[0]);
      const by = y.getPixelForValue(b[1] / 10000);
      const t = Math.atan2(by - ay, bx - ax);
      const s = 10;
      ctx.fillStyle = color;
      ctx.beginPath();
      ctx.moveTo(bx, by);
      ctx.lineTo(bx - s * Math.cos(t - 0.55), by - s * Math.sin(t - 0.55));
      ctx.lineTo(bx - s * Math.cos(t + 0.55), by - s * Math.sin(t + 0.55));
      ctx.closePath();
      ctx.fill();
    };
    head(upPath, "#4b5763");
    head(downPath, CYAN);

    // annotations
    ctx.textBaseline = "middle";
    ctx.font = "700 14px 'Open Sans'";
    emaTexts.forEach(([t, c, tx, ty]) => {
      ctx.fillStyle = c;
      ctx.fillText(t, tx, ty);
    });
    levelTexts.forEach(([t, v, c, off]) => {
      ctx.fillStyle = c;
      ctx.fillText(t, 1802, y.getPixelForValue(v) + off);
    });

    // headers
    ctx.fillStyle = AXIS;
    ctx.beginPath();
    ctx.moveTo(7, 9);
    ctx.lineTo(13, 9);
    ctx.lineTo(10, 13);
    ctx.closePath();
    ctx.fill();
    ctx.font = `10.5px ${SANS}`;
    ctx.letterSpacing = "-0.2px";
    ctx.fillText(titleSymbol, 18, 10.5);
    ctx.letterSpacing = "-0.8px";
    ctx.fillText(titleValues, 79, 10.5);
    ctx.letterSpacing = "-0.4px";
    ctx.fillText("RSI(14) 42.2517", 7, 681);
    ctx.letterSpacing = "-0.65px";
    ctx.fillText("MACD(12,26,9) -0.000354 0.000811", 7, 808);
    ctx.letterSpacing = "0px";

    // frames
    ctx.strokeStyle = AXIS;
    ctx.lineWidth = 1.2;
    [[2, 669], [671, 796], [798, 915]].forEach(([t, b]) => {
      ctx.strokeRect(2.5, t + 0.5, 1868, b - t);
    });
    ctx.restore();
  },
  afterDraw(chart: any) {
    const { ctx, scales } = chart;
    const y = scales.y;
    ctx.save();
    ctx.font = `10.5px ${SANS}`;
    ctx.letterSpacing = PRICE_SPACING;
    ctx.textBaseline = "middle";
    ctx.textAlign = "left";
    const box = (v: number, bg: string) => {
      const py = y.getPixelForValue(v);
      ctx.fillStyle = bg;
      ctx.fillRect(1872, py - 5.5, 40, 11);
      ctx.fillStyle = "#ffffff";
      ctx.fillText(v.toFixed(5), 1876, py + 0.5);
    };
    levels.forEach((v) => box(v, "#000000"));
    box(lastPrice, "#505050");
    ctx.restore();
  },
};

export default function App() {
  const ref = useRef<HTMLCanvasElement>(null);
  useEffect(() => {
    const wicks = idx.map((i) => ({ x: i, y: [lows[i] / 10000, highs[i] / 10000] }));
    const upBodies = idx.filter(isUp).map((i) => ({ x: i, y: [opens[i] / 10000, closes[i] / 10000] }));
    const downBodies = idx.filter((i) => !isUp(i)).map((i) => ({ x: i, y: [closes[i] / 10000, opens[i] / 10000] }));
    const hist = macdHist.map((v, i) => ({ x: i, y: v / 100000 }));
    const full = (v: number) => [{ x: -0.375, y: v }, { x: 466.625, y: v }];

    const datasets: any[] = [
      line(px(trendLine), "#00bfff", "y", 1, 3),
      line(px(upPath), "#4b5763", "y", 1, 3, { tension: 0.4 }),
      line(px(downPath), CYAN, "y", 1, 3, { tension: 0.4 }),
      { type: "bar", data: upBodies, backgroundColor: "#ffffff", borderColor: CYAN, borderWidth: 1, borderSkipped: false, barThickness: 3, grouped: false, inflateAmount: 0, yAxisID: "y", order: 2 },
      { type: "bar", data: downBodies, backgroundColor: DARK, borderWidth: 0, barThickness: 3, grouped: false, inflateAmount: 0, yAxisID: "y", order: 2 },
      { type: "bar", data: wicks, backgroundColor: idx.map((i) => (isUp(i) ? CYAN : DARK)), borderWidth: 0, barThickness: 1, grouped: false, inflateAmount: 0, yAxisID: "y", order: 3 },
      line(px(ema21), "#ffff00", "y", 4),
      line(px(ema50), "#ff0000", "y", 4),
      line(px(ema100), "#00ff00", "y", 4),
      line(px(ema200), "#000000", "y", 4),
      line(px(bbUpper), BAND, "y", 5),
      line(px(bbMiddle), BAND, "y", 5),
      line(px(bbLower), BAND, "y", 5),
      ...levels.map((v) => line(full(v), "#000000", "y", 6, 1, { borderDash: [12, 4, 3, 5] })),
      line(raw(rsi), CYAN, "yr", 1),
      ...rsiGuides.map((v) => line(full(v), "#c0c0c0", "yr", 2, 1, { borderDash: [3, 3] })),
      line(px(macdSignal).map((p) => ({ x: p.x, y: p.y / 10 })), "#000000", "ym", 1, 1.2),
      { type: "bar", data: hist, backgroundColor: CYAN, borderWidth: 0, barThickness: 1, grouped: false, inflateAmount: 0, yAxisID: "ym", order: 2 },
    ];

    const noPad = (s: any) => { s.paddingTop = 0; s.paddingBottom = 0; s.paddingLeft = 0; s.paddingRight = 0; };

    const yAxis = (extra: any, ticks: number[], label: (v: number) => string) => ({
      type: "linear",
      position: "right",
      stack: "panes",
      afterFit: (s: any) => { s.width = 46; noPad(s); },
      afterBuildTicks: (s: any) => { s.ticks = ticks.map((value) => ({ value })); },
      grid: { drawOnChartArea: false, drawTicks: true, tickLength: 3, color: AXIS },
      border: { display: false },
      ticks: { callback: label, font: priceFont, color: AXIS, autoSkip: false, padding: 3, maxRotation: 0 },
      ...extra,
    });

    const chart = new Chart(ref.current as HTMLCanvasElement, {
      type: "line",
      data: { datasets },
      plugins: [overlay],
      options: {
        animation: false,
        responsive: false,
        events: [],
        layout: { padding: { left: 2, top: 2, right: 0, bottom: 0 } },
        plugins: { legend: { display: false }, tooltip: { enabled: false } },
        scales: {
          x: {
            type: "linear",
            min: -0.375,
            max: 466.625,
            offset: false,
            afterFit: (s: any) => { s.height = 21; noPad(s); },
            afterBuildTicks: (s: any) => { s.ticks = dateLabels.map((_, i) => ({ value: i * 16 })); },
            grid: { drawOnChartArea: false, tickLength: 3, color: AXIS },
            border: { display: false },
            ticks: {
              callback: (v: number) => dateLabels[Math.round(v / 16)],
              font: dateFont, color: AXIS, autoSkip: false, maxRotation: 0, align: "start", padding: 1,
            },
          },
          y: yAxis({ min: 0.82266, max: 0.86326, stackWeight: 668, weight: 0 }, priceTicks, (v) => v.toFixed(5)),
          yr: yAxis({ min: -0.84, max: 102.1, stackWeight: 127, weight: 1 }, rsiTicks, (v) => rsiTickText[rsiTicks.indexOf(v)]),
          ym: yAxis({ min: -0.0033, max: 0.00413, stackWeight: 118, weight: 2 }, macdTicks, (v) => macdTickText[macdTicks.indexOf(v)]),
        },
      } as any,
    } as any);
    return () => chart.destroy();
  }, []);
  return (
    <canvas
      ref={ref}
      width={1916}
      height={936}
      style={{ position: "fixed", left: 0, top: 0, width: 1916, height: 936, background: "#ffffff" }}
    />
  );
}
